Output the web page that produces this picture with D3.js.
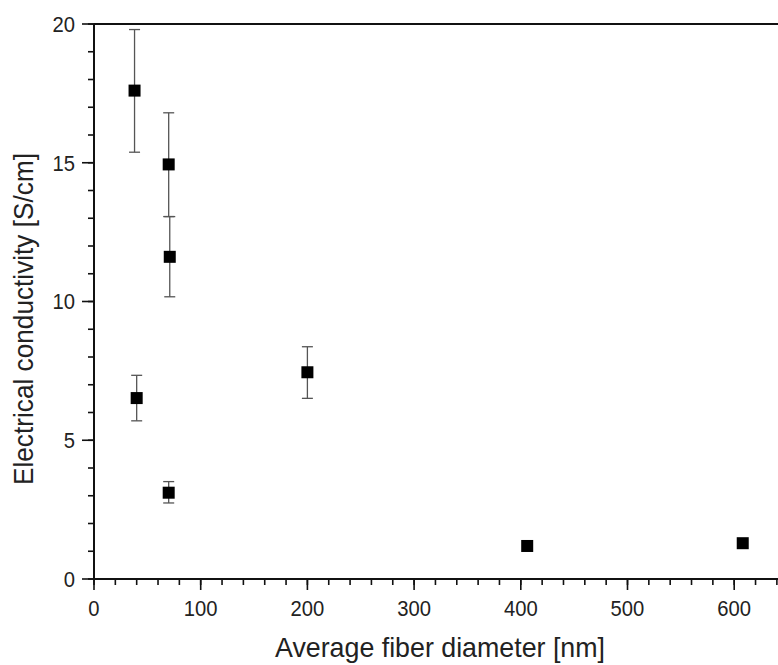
<!DOCTYPE html>
<html>
<head>
<meta charset="utf-8">
<script src="https://cdn.jsdelivr.net/npm/d3@7"></script>
<style>
  html, body { margin: 0; padding: 0; background: #fff; }
  svg { display: block; font-family: "Liberation Sans", Arial, sans-serif; }
</style>
</head>
<body>
<div id="chart"></div>
<script>
const width = 778;
const height = 665;

// fiber diameter [nm], conductivity [S/cm], error bar ends
const diameter = [38, 70, 71, 40, 70, 200, 406, 608];
const conductivity = [17.6, 14.94, 11.61, 6.52, 3.11, 7.45, 1.19, 1.29];
const errLow = [15.38, 13.06, 10.17, 5.70, 2.74, 6.51, null, null];
const errHigh = [19.80, 16.80, 13.06, 7.34, 3.51, 8.37, null, null];

const xTicks = [0, 100, 200, 300, 400, 500, 600];
const yTicks = [0, 5, 10, 15, 20];

const points = diameter.map((d, i) => ({
  x: d, y: conductivity[i], lo: errLow[i], hi: errHigh[i]
}));

const plotLeft = 94, plotTop = 24, plotBottom = 579;

const x = d3.scaleLinear().domain([0, 650]).range([plotLeft, plotLeft + 650 * 1.067]);
const y = d3.scaleLinear().domain([0, 20]).range([plotBottom, plotTop]);

const svg = d3.select("#chart")
  .append("svg")
  .attr("width", width)
  .attr("height", height);

// minor ticks
const xMinor = d3.range(0, 660, 20);
const yMinor = d3.range(0, 21, 1);

const xAxis = svg.append("g")
  .attr("transform", `translate(0,${plotBottom})`);
xAxis.selectAll(".minor")
  .data(xMinor)
  .join("line")
  .attr("x1", d => x(d)).attr("x2", d => x(d))
  .attr("y1", 0).attr("y2", 6)
  .attr("stroke", "#111").attr("stroke-width", 1.6);
xAxis.selectAll(".major")
  .data(xTicks)
  .join("line")
  .attr("x1", d => x(d)).attr("x2", d => x(d))
  .attr("y1", 0).attr("y2", 11)
  .attr("stroke", "#111").attr("stroke-width", 1.6);
xAxis.selectAll("text")
  .data(xTicks)
  .join("text")
  .attr("transform", d => `translate(${x(d)},37) scale(0.92,1)`)
  .attr("text-anchor", "middle")
  .attr("font-size", 22)
  .attr("fill", "#222")
  .text(d => d);
xAxis.append("line")
  .attr("x1", plotLeft).attr("x2", width)
  .attr("stroke", "#111").attr("stroke-width", 2);

const yAxis = svg.append("g")
  .attr("transform", `translate(${plotLeft},0)`);
yAxis.selectAll(".minor")
  .data(yMinor)
  .join("line")
  .attr("x1", -6).attr("x2", 0)
  .attr("y1", d => y(d)).attr("y2", d => y(d))
  .attr("stroke", "#111").attr("stroke-width", 1.6);
yAxis.selectAll(".major")
  .data(yTicks)
  .join("line")
  .attr("x1", -12).attr("x2", 0)
  .attr("y1", d => y(d)).attr("y2", d => y(d))
  .attr("stroke", "#111").attr("stroke-width", 1.6);
yAxis.selectAll("text")
  .data(yTicks)
  .join("text")
  .attr("transform", d => `translate(-19,${y(d)}) scale(0.92,1)`)
  .attr("dy", "0.36em")
  .attr("text-anchor", "end")
  .attr("font-size", 22)
  .attr("fill", "#222")
  .text(d => d);
yAxis.append("line")
  .attr("y1", plotTop).attr("y2", plotBottom)
  .attr("stroke", "#111").attr("stroke-width", 2);

// top frame
svg.append("line")
  .attr("x1", plotLeft).attr("x2", width)
  .attr("y1", plotTop).attr("y2", plotTop)
  .attr("stroke", "#111").attr("stroke-width", 2);

// error bars
const eb = svg.append("g")
  .selectAll("g")
  .data(points.filter(d => d.lo != null))
  .join("g")
  .attr("stroke", "#555")
  .attr("stroke-width", 1.3);
eb.append("line")
  .attr("x1", d => x(d.x)).attr("x2", d => x(d.x))
  .attr("y1", d => y(d.lo)).attr("y2", d => y(d.hi));
eb.append("line")
  .attr("x1", d => x(d.x) - 5.5).attr("x2", d => x(d.x) + 5.5)
  .attr("y1", d => y(d.lo)).attr("y2", d => y(d.lo));
eb.append("line")
  .attr("x1", d => x(d.x) - 5.5).attr("x2", d => x(d.x) + 5.5)
  .attr("y1", d => y(d.hi)).attr("y2", d => y(d.hi));

// markers
const s = 12;
svg.append("g")
  .selectAll("rect")
  .data(points)
  .join("rect")
  .attr("x", d => x(d.x) - s / 2)
  .attr("y", d => y(d.y) - s / 2)
  .attr("width", s)
  .attr("height", s)
  .attr("fill", "#000");

// axis titles
svg.append("text")
  .attr("x", 440)
  .attr("y", 657)
  .attr("text-anchor", "middle")
  .attr("font-size", 28)
  .attr("fill", "#222")
  .attr("textLength", 330)
  .attr("lengthAdjust", "spacingAndGlyphs")
  .text("Average fiber diameter [nm]");

svg.append("text")
  .attr("transform", "translate(33,319) rotate(-90)")
  .attr("text-anchor", "middle")
  .attr("font-size", 28)
  .attr("fill", "#222")
  .attr("textLength", 332)
  .attr("lengthAdjust", "spacingAndGlyphs")
  .text("Electrical conductivity [S/cm]");
</script>
</body>
</html>
